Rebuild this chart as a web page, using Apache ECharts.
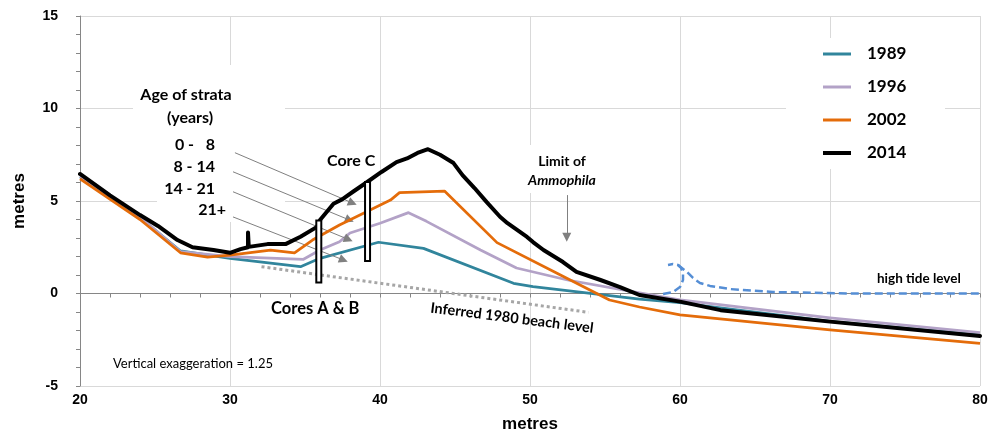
<!DOCTYPE html>
<html>
<head>
<meta charset="utf-8">
<script src="https://cdn.jsdelivr.net/npm/echarts@6/dist/echarts.min.js"></script>
<style>
html, body { margin: 0; padding: 0; background: #fff; }
#chart { width: 1002px; height: 433px; }
</style>
</head>
<body>
<div id="chart"></div>
<script>
// beach profiles, [distance m, height m]
var profile1989 = [[20, 6.3], [24, 4.1], [26.7, 2.3], [30, 1.9], [34.7, 1.45], [36, 1.9], [39.9, 2.77], [42.9, 2.44],
  [48.9, 0.55], [50.2, 0.37], [57.3, -0.31], [60, -0.5], [70, -1.5], [80, -2.25]];
var profile1996 = [[20, 6.35], [24, 4.15], [26.7, 2.26], [30, 1.99], [34.9, 1.85], [36, 2.35], [37.3, 2.8], [38, 3.27],
  [40, 3.8], [41.9, 4.37], [43.1, 3.9], [46.7, 2.35], [49.1, 1.38], [52.5, 0.73], [57.3, 0.03], [60, -0.35],
  [70, -1.32], [80, -2.12]];
var profile2002 = [[20, 6.2], [24, 4.0], [26.7, 2.2], [28.5, 1.97], [30, 2.08], [32.7, 2.35], [34.3, 2.19], [35.5, 2.89],
  [37.3, 3.7], [40.7, 5.05], [41.3, 5.45], [44.3, 5.54], [47.8, 2.75], [51.8, 1.1], [55.3, -0.35], [57.3, -0.73],
  [60, -1.16], [70, -1.97], [80, -2.69]];
var profile2014 = [[20, 6.46], [22, 5.3], [24, 4.24], [25.2, 3.65], [26.5, 2.89], [27.5, 2.5], [28.9, 2.35], [30, 2.2],
  [30.7, 2.4], [31.2, 2.5], [31.2, 3.3], [31.25, 2.52], [32.5, 2.67], [33.7, 2.67], [34.7, 3.07], [35.8, 3.6],
  [36, 3.97], [36.9, 4.85], [37.5, 5.1], [38.2, 5.5], [39.1, 6.0], [40.1, 6.57], [41.1, 7.1], [41.8, 7.3],
  [42.5, 7.6], [43.2, 7.8], [44, 7.5], [44.9, 7.05], [45.5, 6.4], [46.3, 5.7], [47.1, 4.95], [48, 4.15],
  [48.5, 3.8], [49.8, 3.06], [50.2, 2.78], [50.9, 2.35], [52.2, 1.7], [53.1, 1.17], [54.7, 0.73], [56, 0.35],
  [57.3, -0.08], [60, -0.44], [62.7, -0.9], [70, -1.52], [80, -2.3]];
var beach1980 = [[32.1, 1.45], [53.9, -1.02]];
// high tide line with the little wave
var tideWave = [[58.87, -0.03], [59.53, 0.08], [60.0, 0.35], [60.2, 0.73], [60.2, 1.11], [60.07, 1.38],
  [59.87, 1.54], [59.53, 1.59], [59.2, 1.54]];
var tideLevel = [[59.87, 1.54], [60.47, 1.16], [60.87, 0.84], [61.33, 0.57], [62.0, 0.41], [63.33, 0.24],
  [66.2, 0.08], [71.3, 0], [80, 0]];
// cores: [x, bottom, top]
var cores = [[35.92, 0.6, 3.94], [39.17, 1.76, 6.03]];
// arrows: [from, to]
var arrows = [
  [[30.33, 7.61], [38.17, 4.89]],
  [[30.2, 6.58], [37.97, 3.97]],
  [[30.2, 5.5], [37.9, 2.92]],
  [[30.2, 4.14], [37.57, 1.81]],
  [[52.45, 5.32], [52.45, 3.04]]
];
var years = ['1989', '1996', '2002', '2014'];

var calibri = 'Lato, "Open Sans", sans-serif';
var arial = '"Liberation Sans", Arial, sans-serif';

function txt(text, x, y, size, align, extra) {
  var el = {
    type: 'text', x: x, y: y, z: 100,
    style: {
      text: text, fill: '#000', fontFamily: calibri, fontSize: size, fontWeight: 'bold',
      textAlign: align, textVerticalAlign: 'middle'
    }
  };
  if (extra) {
    for (var k in extra) {
      if (k === 'rotation') el.rotation = extra[k]; else el.style[k] = extra[k];
    }
  }
  return el;
}

var chart = echarts.init(document.getElementById('chart'));

var lineBase = { type: 'line', symbol: 'none', showSymbol: false, animation: false, emphasis: { disabled: true }, silent: true };
var legendText = { fontFamily: calibri, fontSize: 17, fontWeight: 'bold', color: '#000', lineHeight: 20, padding: [0, 0, 0, 11] };

chart.setOption({
  backgroundColor: '#ffffff',
  animation: false,
  grid: { left: 80, right: 22, top: 16, bottom: 47, outerBoundsMode: 'none', containLabel: false },
  legend: [{
    data: years.slice(0, 3),
    orient: 'vertical',
    left: 823, top: 44, padding: 0,
    icon: 'rect', itemWidth: 28, itemHeight: 3, itemGap: 13,
    textStyle: legendText
  }, {
    data: years.slice(3),
    orient: 'vertical',
    left: 823, top: 143, padding: 0,
    icon: 'rect', itemWidth: 28, itemHeight: 4,
    textStyle: legendText
  }],
  xAxis: {
    type: 'value', min: 20, max: 80, interval: 10,
    name: 'metres', nameLocation: 'middle', nameGap: 30,
    nameTextStyle: { fontFamily: arial, fontSize: 17, fontWeight: 'bold', color: '#000' },
    axisLine: { show: true, lineStyle: { color: '#868686', width: 1 } },
    axisTick: { show: true, length: 4, lineStyle: { color: '#868686' } },
    minorTick: { show: true, splitNumber: 5, length: 4, lineStyle: { color: '#868686' } },
    axisLabel: { margin: 7, fontFamily: arial, fontSize: 14, fontWeight: 'bold', color: '#000' },
    splitLine: { show: true, lineStyle: { color: '#d9d9d9', width: 1 } }
  },
  yAxis: {
    type: 'value', min: -5, max: 15, interval: 5,
    name: 'metres', nameLocation: 'middle', nameGap: 52, nameRotate: 90,
    nameTextStyle: { fontFamily: arial, fontSize: 17, fontWeight: 'bold', color: '#000' },
    axisLine: { show: true, lineStyle: { color: '#868686', width: 1 } },
    axisTick: { show: true, length: 4, lineStyle: { color: '#868686' } },
    minorTick: { show: true, splitNumber: 5, length: 4, lineStyle: { color: '#868686' } },
    axisLabel: { margin: 22, fontFamily: arial, fontSize: 14, fontWeight: 'bold', color: '#000' },
    splitLine: { show: true, lineStyle: { color: '#d9d9d9', width: 1 } }
  },
  graphic: {
    elements: [
      { type: 'rect', z: 1, silent: true, shape: { x: 133, y: 65, width: 152, height: 133 }, style: { fill: '#fff' } },
      { type: 'rect', z: 1, silent: true, shape: { x: 157, y: 198, width: 128, height: 24 }, style: { fill: '#fff' } },
      { type: 'rect', z: 1, silent: true, shape: { x: 515, y: 145, width: 95, height: 48 }, style: { fill: '#fff' } },
      { type: 'rect', z: 1, silent: true, shape: { x: 786, y: 38, width: 159, height: 131 }, style: { fill: '#fff' } },
      txt('Age of strata', 186, 95, 16, 'center'),
      txt('(years)', 190, 118, 16, 'center'),
      txt('0 -   8', 215, 145, 16, 'right'),
      txt('8 - 14', 215, 167, 16, 'right'),
      txt('14 - 21', 215, 189, 16, 'right'),
      txt('21+', 226, 210, 16, 'right'),
      txt('Core C', 327, 161, 16, 'left'),
      txt('Cores A & B', 271, 309, 16.5, 'left'),
      txt('Limit of', 562, 161, 14, 'center'),
      txt('Ammophila', 562, 180, 14, 'center', { fontStyle: 'italic' }),
      txt('Inferred 1980 beach level', 512, 318, 14.5, 'center', { rotation: -0.125 }),
      txt('high tide level', 877, 279, 13.5, 'left'),
      txt('Vertical exaggeration = 1.25', 113, 364, 13, 'left', { fontWeight: 'normal' })
    ]
  },
  series: [
    Object.assign({}, lineBase, { name: '1989', data: profile1989, z: 3, itemStyle: { color: '#31859c' },
      lineStyle: { color: '#31859c', width: 2.75, join: 'round' } }),
    Object.assign({}, lineBase, { name: '1996', data: profile1996, z: 4, itemStyle: { color: '#b3a2c7' },
      lineStyle: { color: '#b3a2c7', width: 2.75, join: 'round' } }),
    Object.assign({}, lineBase, { name: '2002', data: profile2002, z: 5, itemStyle: { color: '#e46c0a' },
      lineStyle: { color: '#e46c0a', width: 2.75, join: 'round' } }),
    Object.assign({}, lineBase, { name: '2014', data: profile2014, z: 6, itemStyle: { color: '#000' },
      lineStyle: { color: '#000', width: 4, join: 'round', cap: 'round' } }),
    Object.assign({}, lineBase, { name: 'beach1980', data: beach1980, z: 3,
      lineStyle: { color: '#a6a6a6', width: 3, type: [3, 3] } }),
    Object.assign({}, lineBase, { name: 'tide1', data: tideWave, z: 3,
      lineStyle: { color: '#558ed5', width: 2.5, type: [8, 4] } }),
    Object.assign({}, lineBase, { name: 'tide2', data: tideLevel, z: 3,
      lineStyle: { color: '#558ed5', width: 2.5, type: [8, 4] } }),
    Object.assign({}, lineBase, {
      name: 'arrows', data: [], z: 7,
      markLine: {
        silent: true, animation: false,
        symbol: ['none', 'triangle'], symbolSize: 9,
        label: { show: false },
        lineStyle: { color: '#808080', width: 1, type: 'solid' },
        itemStyle: { color: '#808080' },
        emphasis: { disabled: true },
        data: arrows.map(function (a) { return [{ coord: a[0] }, { coord: a[1] }]; })
      }
    }),
    {
      type: 'custom', name: 'cores', z: 10, silent: true, animation: false,
      data: cores,
      encode: { x: 0, y: [1, 2] },
      renderItem: function (params, api) {
        var top = api.coord([api.value(0), api.value(2)]);
        var bot = api.coord([api.value(0), api.value(1)]);
        return {
          type: 'rect',
          shape: { x: top[0] - 2.5, y: top[1], width: 5, height: bot[1] - top[1] },
          style: { fill: '#fff', stroke: '#000', lineWidth: 2 }
        };
      }
    }
  ]
});
</script>
</body>
</html>
